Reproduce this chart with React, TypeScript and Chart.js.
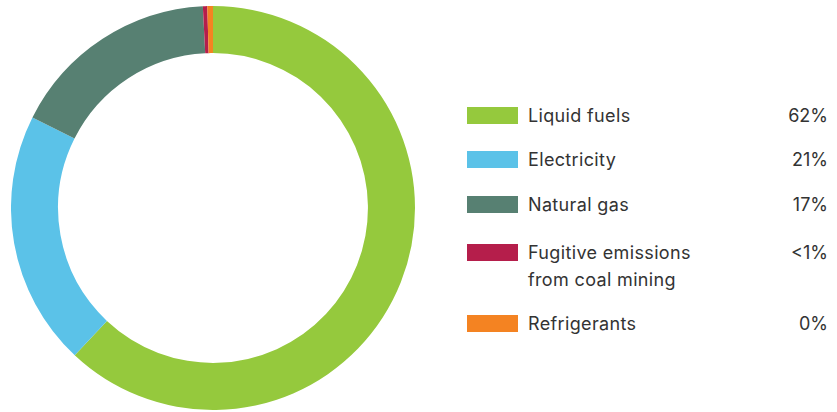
import React, { useEffect, useRef } from "react";
import { Chart, registerables } from "chart.js";

Chart.register(...registerables);

const categories = ["Liquid fuels", "Electricity", "Natural gas", "Fugitive emissions from coal mining", "Refrigerants"];
const legendLines = [["Liquid fuels"], ["Electricity"], ["Natural gas"], ["Fugitive emissions", "from coal mining"], ["Refrigerants"]];
const values = [62.0, 20.4, 16.8, 0.35, 0.45];
const percentLabels = ["62%", "21%", "17%", "<1%", "0%"];
const colors = ["#95C93D", "#5BC2E8", "#578072", "#B51E4B", "#F48322"];

const rowTops = [107, 151, 196, 244, 315];

export default function App() {
  const ref = useRef<HTMLCanvasElement | null>(null);
  useEffect(() => {
    if (!ref.current) return;
    const chart = new Chart(ref.current, {
      type: "doughnut",
      data: {
        labels: categories,
        datasets: [
          {
            data: values,
            backgroundColor: colors,
            borderWidth: 0,
          },
        ],
      },
      options: {
        responsive: false,
        animation: false,
        cutout: "76.7%",
        layout: { padding: 0 },
        plugins: { legend: { display: false }, tooltip: { enabled: false } },
      },
    });
    return () => chart.destroy();
  }, []);

  const font = "Inter, 'Noto Sans', sans-serif";
  return (
    <div style={{ position: "absolute", left: 0, top: 0, width: 837, height: 412, background: "#fff", overflow: "hidden" }}>
      <canvas ref={ref} width={404} height={404} style={{ position: "absolute", left: 11, top: 6, width: 404, height: 404 }} />
      {categories.map((c, i) => (
        <div key={c} style={{ position: "absolute", left: 0, top: rowTops[i], width: 837 }}>
          <div style={{ position: "absolute", left: 467, top: 0, width: 51, height: 17, background: colors[i] }} />
          <div
            style={{
              position: "absolute",
              left: 528,
              top: -5,
              fontFamily: font,
              fontSize: 18,
              lineHeight: "27px",
              letterSpacing: "0.35px",
              color: "#333",
              whiteSpace: "nowrap",
            }}
          >
            {legendLines[i].map((l, j) => (
              <div key={j}>{l}</div>
            ))}
          </div>
          <div
            style={{
              position: "absolute",
              right: 837 - 828,
              top: -5,
              fontFamily: font,
              fontSize: 18,
              lineHeight: "27px",
              color: "#333",
              textAlign: "right",
              whiteSpace: "nowrap",
            }}
          >
            {percentLabels[i]}
          </div>
        </div>
      ))}
    </div>
  );
}
